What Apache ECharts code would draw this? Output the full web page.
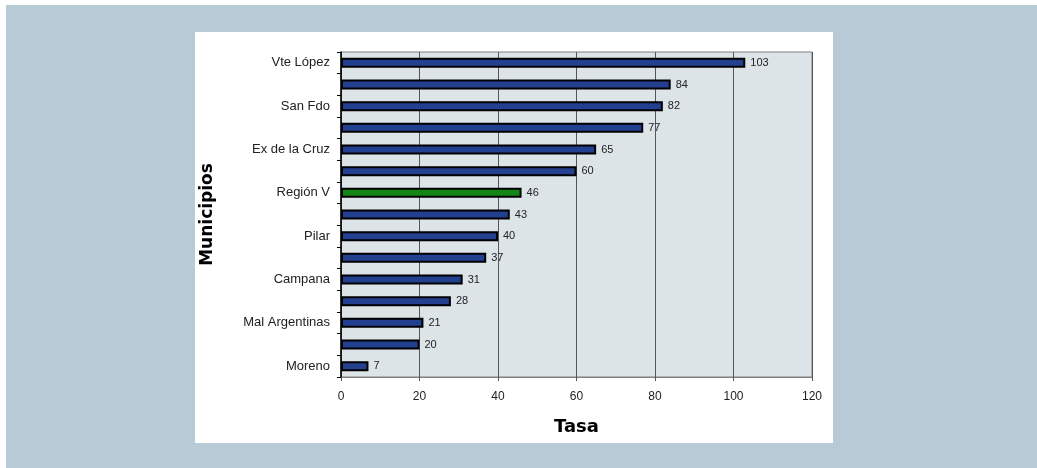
<!DOCTYPE html>
<html>
<head>
<meta charset="utf-8">
<script src="https://cdn.jsdelivr.net/npm/echarts@6/dist/echarts.min.js"></script>
<style>
html,body{margin:0;padding:0;background:#fff;}
#c{width:1037px;height:468px;}
</style>
</head>
<body>
<div id="c"></div>
<script>
const categories = ['Vte López', ' ', 'San Fdo', '  ', 'Ex de la Cruz', '   ', 'Región V', '    ', 'Pilar', '     ', 'Campana', '      ', 'Mal Argentinas', '       ', 'Moreno'];
const values = [103, 84, 82, 77, 65, 60, 46, 43, 40, 37, 31, 28, 21, 20, 7];
const highlightIndex = 6;
const xTicks = [0, 20, 40, 60, 80, 100, 120];

const chart = echarts.init(document.getElementById('c'), null, {renderer: 'canvas'});
const FONT = '"Liberation Sans", Arial, sans-serif';
const barData = values.map((v, i) => i === highlightIndex
  ? {value: v, itemStyle: {color: '#138613'}}
  : v);

chart.setOption({
  backgroundColor: '#ffffff',
  animation: false,
  graphic: [
    {type: 'rect', z: -10, shape: {x: 6, y: 5, width: 1031, height: 463}, style: {fill: '#b8cad6'}},
    {type: 'rect', z: -9, shape: {x: 195, y: 32, width: 638, height: 411}, style: {fill: '#ffffff'}}
  ],
  grid: {
    left: 341, right: 225, top: 52, bottom: 91,
    show: true, backgroundColor: '#dde4e8', borderColor: '#808080', borderWidth: 1
  },
  xAxis: {
    type: 'value', min: xTicks[0], max: xTicks[xTicks.length - 1], interval: 20,
    name: 'Tasa', nameLocation: 'middle', nameGap: 41,
    nameTextStyle: {fontFamily: '"DejaVu Sans", sans-serif', fontWeight: 'bold', fontSize: 18, color: '#000'},
    axisLine: {show: true, lineStyle: {color: '#808080', width: 1}},
    axisTick: {show: true, length: 4, lineStyle: {color: '#555'}},
    axisLabel: {fontFamily: FONT, fontSize: 12, color: '#222', margin: 14},
    splitLine: {show: true, lineStyle: {color: '#555', width: 1}}
  },
  yAxis: {
    type: 'category', data: categories, inverse: true,
    name: 'Municipios', nameLocation: 'middle', nameGap: 125, nameRotate: 90,
    nameTextStyle: {fontFamily: '"DejaVu Sans", sans-serif', fontWeight: 'bold', fontSize: 17, color: '#000'},
    axisLine: {show: true, lineStyle: {color: '#000', width: 1.5}},
    axisTick: {show: true, interval: 0, length: 4, alignWithLabel: false, lineStyle: {color: '#000'}},
    axisLabel: {interval: 1, fontFamily: FONT, fontSize: 13, color: '#222', margin: 11},
    splitLine: {show: false}
  },
  series: [{
    type: 'bar',
    data: barData,
    barWidth: 10,
    itemStyle: {color: '#233f8f', borderColor: '#000', borderWidth: 2},
    label: {show: true, position: 'right', distance: 5, fontFamily: FONT, fontSize: 11, color: '#222'}
  }]
});
</script>
</body>
</html>
